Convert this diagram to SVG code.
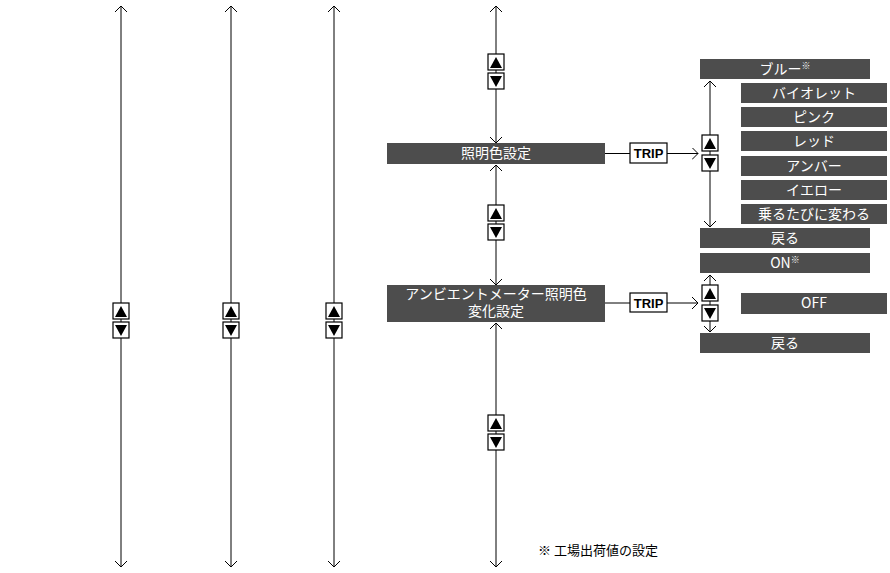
<svg xmlns="http://www.w3.org/2000/svg" width="890" height="573" viewBox="0 0 890 573">
<defs>
<marker id="a" markerWidth="12" markerHeight="12" refX="6" refY="6" orient="auto-start-reverse" markerUnits="userSpaceOnUse"><path d="M0,0 L6,6 L0,12" fill="none" stroke="#000" stroke-width="1"/></marker>
<g id="up"><rect x="-8" y="0" width="16" height="16" fill="#fff" stroke="#000" stroke-width="1.2"/><path d="M-6,14 L0,3 L6,14Z" fill="#000"/></g>
<g id="dn"><rect x="-8" y="0" width="16" height="16" fill="#fff" stroke="#000" stroke-width="1.2"/><path d="M-6,3 L0,14 L6,3Z" fill="#000"/></g>
</defs>
<style>
.b{fill:#4d4d4d}
.t{fill:#fff;font-family:"Noto Sans CJK JP","Noto Sans",sans-serif;font-size:14px;text-anchor:middle}
.l{stroke:#000;stroke-width:1;fill:none}
.tr{fill:#fff;stroke:#000;stroke-width:1.2}
.tt{font-family:"Liberation Sans",sans-serif;font-size:13px;font-weight:bold;text-anchor:middle}
.n{font-family:"Noto Sans CJK JP",sans-serif;font-size:13px}
</style>
<g id="connectors">
<line class="l" x1="121" y1="6" x2="121" y2="567" marker-start="url(#a)" marker-end="url(#a)"/>
<line class="l" x1="231" y1="6" x2="231" y2="567" marker-start="url(#a)" marker-end="url(#a)"/>
<line class="l" x1="334" y1="6" x2="334" y2="567" marker-start="url(#a)" marker-end="url(#a)"/>
<line class="l" x1="496" y1="6" x2="496" y2="143" marker-start="url(#a)" marker-end="url(#a)"/>
<line class="l" x1="496" y1="165" x2="496" y2="285" marker-start="url(#a)" marker-end="url(#a)"/>
<line class="l" x1="496" y1="323" x2="496" y2="567" marker-start="url(#a)" marker-end="url(#a)"/>
<line class="l" x1="605" y1="153.5" x2="698" y2="153.5" marker-end="url(#a)"/>
<line class="l" x1="605" y1="303" x2="698" y2="303" marker-end="url(#a)"/>
<line class="l" x1="710" y1="81" x2="710" y2="227" marker-start="url(#a)" marker-end="url(#a)"/>
<line class="l" x1="710" y1="275" x2="710" y2="332" marker-start="url(#a)" marker-end="url(#a)"/>
</g>
<g id="icons">
<use href="#up" x="121" y="303"/><use href="#dn" x="121" y="322"/>
<use href="#up" x="231" y="303"/><use href="#dn" x="231" y="322"/>
<use href="#up" x="334" y="303"/><use href="#dn" x="334" y="322"/>
<use href="#up" x="496" y="54"/><use href="#dn" x="496" y="73"/>
<use href="#up" x="496" y="205"/><use href="#dn" x="496" y="224"/>
<use href="#up" x="496" y="415"/><use href="#dn" x="496" y="434"/>
<use href="#up" x="710" y="135"/><use href="#dn" x="710" y="155"/>
<use href="#up" x="710" y="285"/><use href="#dn" x="710" y="305"/>
</g>
<g id="trip1"><rect class="tr" x="630" y="143" width="37" height="20"/><text class="tt" x="648.5" y="158">TRIP</text></g>
<g id="trip2"><rect class="tr" x="630" y="293" width="37" height="19"/><text class="tt" x="648.5" y="307.5">TRIP</text></g>
<g id="n1"><rect class="b" x="387" y="143" width="218" height="21"/><text class="t" x="496" y="158">照明色設定</text></g>
<g id="n2"><rect class="b" x="387" y="285" width="218" height="37"/><text class="t" x="496" y="299" font-size="13.5">アンビエントメーター照明色</text><text class="t" x="496" y="316" font-size="13.5">変化設定</text></g>
<g id="c1"><rect class="b" x="700" y="59" width="170" height="20"/><text class="t" x="785" y="74">ブルー<tspan font-size="9" dy="-5">※</tspan></text></g>
<g id="c2"><rect class="b" x="741" y="83" width="146" height="20"/><text class="t" x="814" y="97.5">バイオレット</text></g>
<g id="c3"><rect class="b" x="741" y="107" width="146" height="20"/><text class="t" x="814" y="121.5">ピンク</text></g>
<g id="c4"><rect class="b" x="741" y="131" width="146" height="20"/><text class="t" x="814" y="145.5">レッド</text></g>
<g id="c5"><rect class="b" x="741" y="156" width="146" height="20"/><text class="t" x="814" y="170.5">アンバー</text></g>
<g id="c6"><rect class="b" x="741" y="180" width="146" height="20"/><text class="t" x="814" y="194.5">イエロー</text></g>
<g id="c7"><rect class="b" x="741" y="204" width="146" height="20"/><text class="t" x="814" y="218.5">乗るたびに変わる</text></g>
<g id="c8"><rect class="b" x="700" y="228" width="170" height="20"/><text class="t" x="785" y="242.5">戻る</text></g>
<g id="o1"><rect class="b" x="700" y="253" width="170" height="20"/><text class="t" x="785" y="267.5">ON<tspan font-size="9" dy="-5">※</tspan></text></g>
<g id="o2"><rect class="b" x="741" y="293" width="146" height="21"/><text class="t" x="814" y="308">OFF</text></g>
<g id="o3"><rect class="b" x="700" y="333" width="170" height="20"/><text class="t" x="785" y="347.5">戻る</text></g>
<text class="n" x="538" y="555">※ 工場出荷値の設定</text>
</svg>
